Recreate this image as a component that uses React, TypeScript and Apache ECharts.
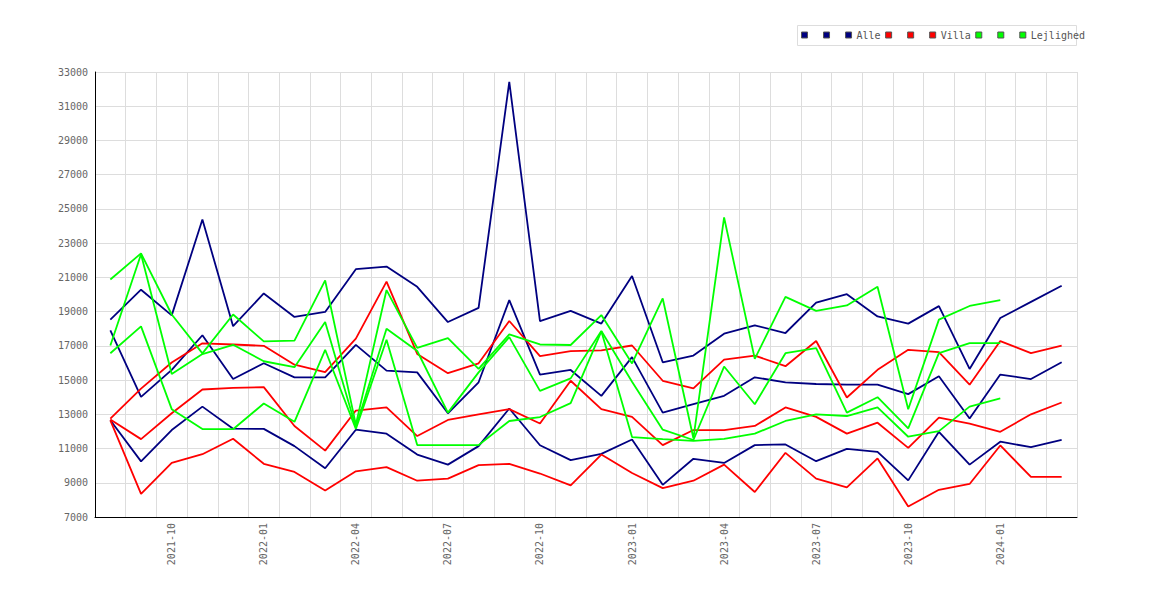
import React, { useEffect, useRef } from 'react';
import * as echarts from 'echarts';

const months = [
  '2021-08', '2021-09', '2021-10', '2021-11', '2021-12',
  '2022-01', '2022-02', '2022-03', '2022-04', '2022-05', '2022-06', '2022-07', '2022-08', '2022-09', '2022-10', '2022-11', '2022-12',
  '2023-01', '2023-02', '2023-03', '2023-04', '2023-05', '2023-06', '2023-07', '2023-08', '2023-09', '2023-10', '2023-11', '2023-12',
  '2024-01', '2024-02', '2024-03',
];

const alleHigh = [18530, 20280, 18780, 24380, 18150, 20060, 18690, 18980, 21480, 21630, 20450, 18390, 19220, 32420, 18450, 19040, 18300, 21080, 16040, 16430, 17710, 18200, 17750, 19530, 20020, 18720, 18300, 19320, 15650, 18630, 19570, 20510];
const alleMid = [17900, 14020, 15600, 17620, 15060, 15980, 15160, 15160, 17060, 15550, 15450, 13060, 14870, 19670, 15320, 15590, 14080, 16340, 13100, 13590, 14080, 15160, 14870, 14770, 14730, 14730, 14180, 15220, 12750, 15320, 15060, 16040];
const alleLow = [12650, 10250, 12080, 13450, 12160, 12150, 11140, 9850, 12100, 11870, 10650, 10060, 11140, 13340, 11190, 10320, 10690, 11530, 8880, 10400, 10160, 11200, 11240, 10260, 10980, 10810, 9140, 11980, 10060, 11400, 11080, 11510];

const villaHigh = [12750, 14500, 16030, 17150, 17080, 17000, 15900, 15460, 17420, 20750, 16530, 15400, 15980, 18450, 16400, 16690, 16730, 17020, 14960, 14510, 16200, 16430, 15810, 17280, 13980, 15600, 16770, 16630, 14730, 17280, 16570, 17020];
const villaMid = [12700, 11550, 13060, 14450, 14540, 14590, 12320, 10880, 13220, 13400, 11730, 12670, 12990, 13300, 12460, 14960, 13300, 12850, 11200, 12080, 12080, 12320, 13400, 12850, 11870, 12510, 11040, 12810, 12450, 11980, 13000, 13690];
const villaLow = [12650, 8350, 10160, 10670, 11570, 10110, 9630, 8550, 9670, 9910, 9120, 9240, 10030, 10100, 9540, 8850, 10650, 9570, 8690, 9120, 10060, 8460, 10750, 9240, 8730, 10420, 7610, 8590, 8930, 11180, 9340, 9340];

const lejlHigh = [20880, 22400, 18830, 16560, 18830, 17260, 17300, 20820, 12400, 20260, 16880, 17450, 15650, 17670, 17080, 17050, 18800, 15970, 19770, 11600, 24500, 16240, 19860, 19040, 19360, 20450, 13300, 18530, 19330, 19670, null, null];
const lejlMid = [17020, 22350, 15350, 16520, 17060, 16100, 15750, 18400, 12250, 18000, 16700, 13100, 15450, 17510, 14370, 15100, 17870, 14900, 12100, 11500, 15790, 13590, 16570, 16870, 13100, 14000, 12180, 16570, 17160, 17160, null, null];
const lejlLow = [16570, 18140, 13300, 12140, 12130, 13630, 12560, 16770, 12150, 17360, 11200, 11200, 11200, 12610, 12840, 13650, 17850, 11670, 11550, 11450, 11570, 11870, 12610, 13000, 12900, 13400, 11690, 12020, 13450, 13930, null, null];

const NAVY = '#000080';
const RED = '#ff0000';
const GREEN = '#00ff00';
const FONT = 'DejaVu Sans Mono';

export default function App() {
  const ref = useRef<HTMLDivElement>(null);

  useEffect(() => {
    document.body.style.margin = '0';
    const chart = echarts.init(ref.current as HTMLDivElement, undefined, { renderer: 'svg' });

    const mk = (name: string, data: (number | null)[], color: string) => ({
      type: 'line',
      name,
      data,
      showSymbol: false,
      symbol: 'none',
      connectNulls: false,
      lineStyle: { color, width: 1.8 },
      itemStyle: { color },
      emphasis: { disabled: true },
    });

    const legendNames = ['Alle_1', 'Alle_2', 'Alle', 'Villa_1', 'Villa_2', 'Villa', 'Lejlighed_1', 'Lejlighed_2', 'Lejlighed'];

    chart.setOption({
      animation: false,
      backgroundColor: '#ffffff',
      graphic: [
        {
          type: 'rect',
          z: 0,
          shape: { x: 797.5, y: 25.5, width: 279, height: 20 },
          style: { fill: '#ffffff', stroke: '#dddddd', lineWidth: 1 },
        },
      ],
      legend: {
        data: legendNames,
        left: 801,
        top: 30,
        padding: 0,
        itemGap: 4.5,
        itemWidth: 6,
        itemHeight: 6,
        icon: 'rect',
        itemStyle: { borderColor: '#555555', borderWidth: 1 },
        textStyle: { fontFamily: FONT, fontSize: 10, color: '#555555' },
        formatter: (name: string) => (name.indexOf('_') >= 0 ? ' ' : name),
        selectedMode: false,
      },
      grid: { left: 95, right: 93, top: 72, bottom: 83, containLabel: false },
      xAxis: {
        type: 'category',
        data: months,
        boundaryGap: true,
        axisLine: { show: true, lineStyle: { color: '#000000', width: 1 } },
        axisTick: { show: false },
        splitLine: { show: true, interval: 0, lineStyle: { color: '#dddddd', width: 1 } },
        axisLabel: {
          rotate: 90,
          interval: (index: number) => index % 3 === 2,
          margin: 6,
          fontFamily: FONT,
          fontSize: 10,
          color: '#666666',
        },
      },
      yAxis: {
        type: 'value',
        min: 7000,
        max: 33000,
        interval: 2000,
        axisLine: { show: true, lineStyle: { color: '#000000', width: 1 } },
        axisTick: { show: false },
        splitLine: { show: true, lineStyle: { color: '#dddddd', width: 1 } },
        axisLabel: {
          margin: 7,
          fontFamily: FONT,
          fontSize: 10,
          color: '#666666',
          formatter: (v: number) => String(v),
        },
      },
      series: [
        mk('Alle_1', alleHigh, NAVY),
        mk('Alle_2', alleMid, NAVY),
        mk('Alle', alleLow, NAVY),
        mk('Villa_1', villaHigh, RED),
        mk('Villa_2', villaMid, RED),
        mk('Villa', villaLow, RED),
        mk('Lejlighed_1', lejlHigh, GREEN),
        mk('Lejlighed_2', lejlMid, GREEN),
        mk('Lejlighed', lejlLow, GREEN),
      ],
    });

    return () => {
      chart.dispose();
    };
  }, []);

  return <div ref={ref} style={{ width: 1170, height: 600 }} />;
}
